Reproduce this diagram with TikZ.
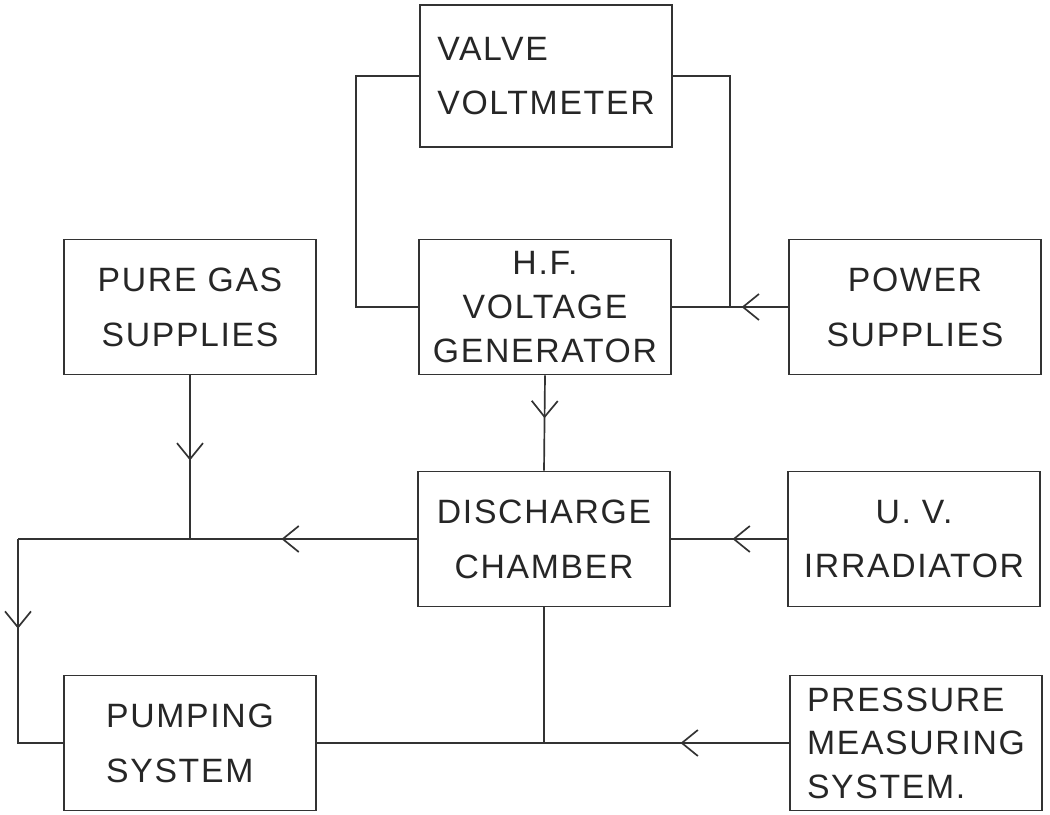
\documentclass[tikz,border=0pt]{standalone}
\usepackage{fontspec}
\setmainfont{Liberation Sans}
\newfontfamily\handfont[LetterSpace=5]{Liberation Sans}
\usetikzlibrary{arrows.meta,decorations.markings}
\tikzset{
  unit/.style={draw=black!80, line width=1.2pt, minimum width=6.3cm, minimum height=3.375cm, align=center, font=\handfont\fontsize{24}{39}\selectfont, text=black!85},
  three/.style={font=\handfont\fontsize{24}{31}\selectfont},
  wire/.style={draw=black!80, line width=1.2pt},
  midarrow/.style={postaction={decorate}, decoration={markings, mark=at position #1 with {\arrow[black!80]{Straight Barb[length=4mm,width=6.5mm]}}}}
}
\begin{document}
\begin{tikzpicture}[x=0.025cm,y=-0.025cm]
\useasboundingbox (0,0) rectangle (1050,814);
\node[unit, minimum height=3.55cm, align=left] (vv) at (546,76) {VALVE\\VOLTMETER};
\node[unit, three] (hf) at (545,307) {H.F.\\VOLTAGE\\GENERATOR};
\node[unit] (gas) at (190,307) {PURE GAS\\SUPPLIES};
\node[unit] (power) at (915,307) {POWER\\SUPPLIES};
\node[unit] (dc) at (544,539) {DISCHARGE\\CHAMBER};
\node[unit] (uv) at (914,539) {U. V.\\IRRADIATOR};
\node[unit, align=left] (pump) at (190,743) {PUMPING\\SYSTEM};
\node[unit, three, align=left] (press) at (916,743) {PRESSURE\\MEASURING\\SYSTEM.};
\coordinate (jr) at (730,307); \coordinate (jl) at (18,539); \coordinate (jb) at (18,743);
\draw[wire] (vv.west) -- ++(-63,0) |- (hf.west);
\draw[wire] (vv.east) -| (jr);
\draw[wire,midarrow=0.4] (power.west) -- (hf.east);
\draw[wire,midarrow=0.45] (hf.south) -- (dc.north);
\draw[wire,midarrow=0.52] (gas.south) -- (gas.south |- jl);
\draw[wire,midarrow=0.34] (dc.west) -- (jl);
\draw[wire,midarrow=0.36] (jl) -- (jb) -- (pump.west);
\draw[wire,midarrow=0.47] (uv.west) -- (dc.east);
\draw[wire,midarrow=0.23] (press.west) -- (pump.east);
\draw[wire] (dc.south) -- (dc.south |- pump.east);
\end{tikzpicture}
\end{document}
